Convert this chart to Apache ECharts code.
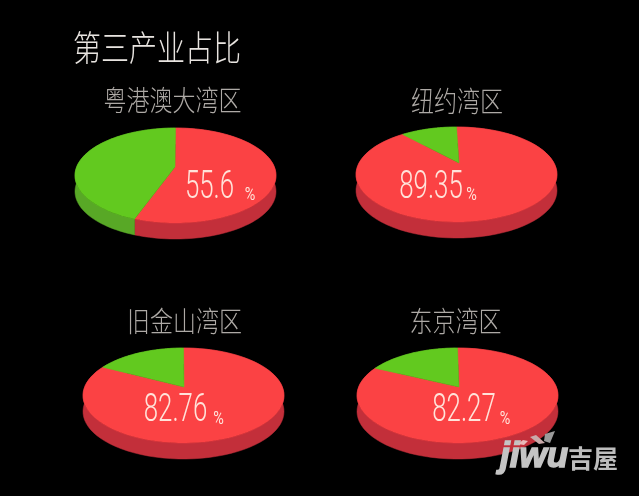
<!DOCTYPE html>
<html><head><meta charset="utf-8">
<style>html,body{margin:0;padding:0;background:#000}#c{width:639px;height:496px}</style>
<script src="https://cdn.jsdelivr.net/npm/echarts@6/dist/echarts.min.js"></script></head>
<body><div id="c"></div>
<script>
const chartTitle = '第三产业占比';
const regions = ['粤港澳大湾区', '纽约湾区', '旧金山湾区', '东京湾区'];
const tertiaryShare = [55.6, 89.35, 82.76, 82.27];
const shareLabels = ['55.6', '89.35', '82.76', '82.27'];

// layout, separate from the data
const apex = [[175,167],[459,163],[184,387],[459,387]];
const rimCentre = [[175.5,167],[456.5,166],[183.5,387],[457.5,387]];
const titlePos = [[172.5,100],[457,101],[184.5,321],[455.5,321]];
const valuePos = [[209.5,188.5],[431,188.5],[175.5,411.5],[464,411.5]];
const pctPos = [[250,195],[471.5,195.5],[218.5,419.5],[505,419.5]];
const UP = 39, DOWN = 56, RX = 100.5, DEPTH = 16;
const COL = {red:'#fb4244', redSide:'#c32f3a', green:'#62c91f', greenSide:'#58a826'};

const k = (UP - DOWN) / (UP + DOWN);
const A = DOWN * (1 + k);
const R = RX * Math.sqrt(1 - k * k);
function project(c, th, dy) {
  const u = Math.sin(th), v = -Math.cos(th), d = 1 + k * v;
  return [c[0] + R * u / d, c[1] + A * v / d + dy];
}
function arc(c, a0, a1, dy) {
  const pts = [], n = 80;
  for (let i = 0; i <= n; i++) pts.push(project(c, a0 + (a1 - a0) * i / n, dy));
  return pts;
}
function face(p, c, a0, a1, fill) {
  return {type:'polygon', shape:{points:[[p[0],p[1]]].concat(arc(c,a0,a1,0))}, style:{fill, stroke:fill, lineWidth:0.5}};
}
function side(c, a0, a1, fill) {
  return {type:'polygon', shape:{points:arc(c,a0,a1,0).concat(arc(c,a0,a1,DEPTH).reverse())}, style:{fill, stroke:fill, lineWidth:0.5}};
}
const option = {
  backgroundColor:'#000',
  animation:false,
  series:[{
    type:'custom', coordinateSystem:'none',
    data: tertiaryShare.map(v => [v]),
    renderItem(params, api) {
      const i = params.dataIndex, c = rimCentre[i], p = apex[i];
      const split = api.value(0) / 100 * 2 * Math.PI, full = 2 * Math.PI;
      return {type:'group', children:[
        side(c, 0, split, COL.redSide),
        side(c, split, full, COL.greenSide),
        face(p, c, 0, split, COL.red),
        face(p, c, split, full, COL.green),
        {type:'text', x:valuePos[i][0], y:valuePos[i][1], scaleX:0.68,
         style:{text:shareLabels[i], fill:'#ffe3da', font:'300 38px Roboto', align:'center', verticalAlign:'middle'}},
        {type:'text', x:pctPos[i][0], y:pctPos[i][1], scaleX:0.8,
         style:{text:'%', fill:'#ffe3da', font:'400 18px Roboto', align:'center', verticalAlign:'middle'}}
      ]};
    }
  }],
  graphic:[
    {type:'text', x:157, y:47.5, scaleY:1.25, style:{text:chartTitle, fill:'#e8e4e0', font:'200 28px "Noto Sans CJK SC"', align:'center', verticalAlign:'middle'}}
  ].concat(regions.map((r,i)=>({type:'text', x:titlePos[i][0], y:titlePos[i][1], scaleY:1.25,
      style:{text:r, fill:'#aeaaa6', font:'200 23px "Noto Sans CJK SC"', align:'center', verticalAlign:'middle'}})))
   .concat([
    {type:'text', x:500, y:457, z:10, style:{text:'jiwu', fill:'#c4c4c4', stroke:'#c4c4c4', lineWidth:1.5, font:'italic 900 35px "Liberation Sans"', align:'left', verticalAlign:'middle'}},
    {type:'text', x:568, y:458, z:10, style:{text:'吉屋', fill:'#bdbdbd', font:'700 25px "Noto Sans CJK SC"', align:'left', verticalAlign:'middle'}},
    {type:'polygon', z:10, shape:{points:[[518,444],[523,440],[528,441],[524,445]]}, style:{fill:'#e9b9b9'}},
    {type:'polygon', z:10, shape:{points:[[530,437],[536,435],[545,443],[539,444]]}, style:{fill:'#c9a9a9'}},
    {type:'polygon', z:10, shape:{points:[[545,434],[555,431],[550,443],[544,441]]}, style:{fill:'#9a9a9a'}}
  ])
};
echarts.init(document.getElementById('c')).setOption(option);
</script></body></html>
